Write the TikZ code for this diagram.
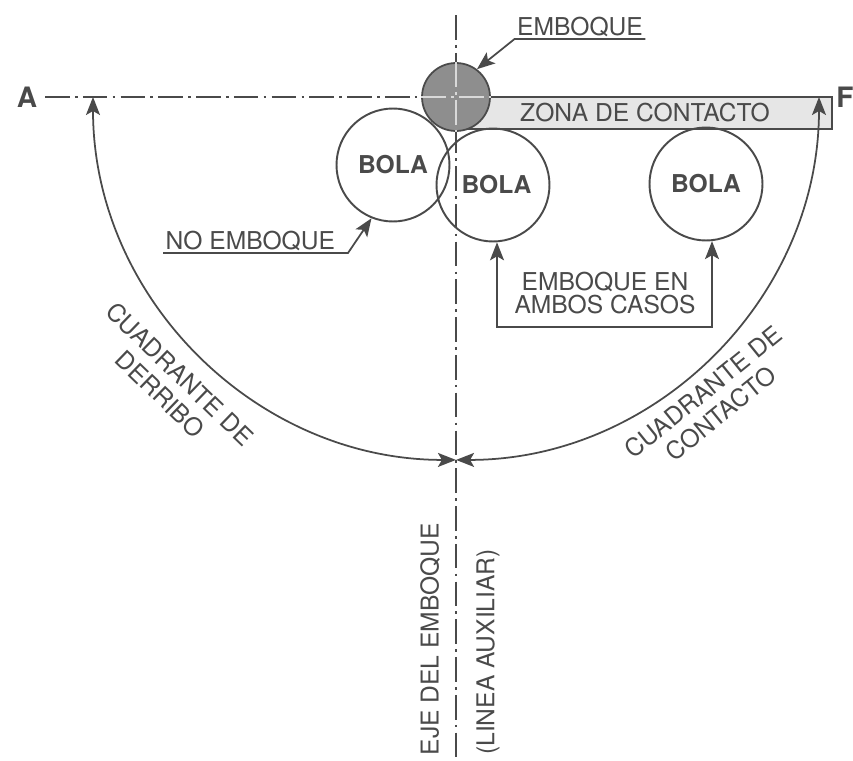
\documentclass[tikz,border=0pt]{standalone}
\usepackage{fontspec}
\setmainfont{TeX Gyre Heros}
\usepackage{xcolor}
\usetikzlibrary{arrows.meta, calc, positioning}
\definecolor{ink}{HTML}{4A4A4A}
\definecolor{embgray}{HTML}{8E8E8E}
\definecolor{zonegray}{HTML}{E6E6E6}

\begin{document}
\begin{tikzpicture}[x=0.02cm, y=0.02cm, line width=1pt, ink,
    txt/.style={font=\fontsize{14}{13}\selectfont, text=ink, inner sep=1pt, align=center},
    bola/.style={circle, draw=ink, line width=1.1pt, minimum size=2.26cm, inner sep=0pt, font=\fontsize{14}{16}\selectfont\bfseries},
    letra/.style={font=\fontsize{16}{18}\selectfont\bfseries, text=ink},
    axis/.style={line width=0.9pt, dash pattern=on 14pt off 3pt on 1.5pt off 3pt},
    arr/.style={-{Stealth[length=3.6mm, width=2.8mm, inset=0.8mm]}},
    arrboth/.style={{Stealth[length=3.6mm, width=2.8mm, inset=0.8mm]}-{Stealth[length=3.6mm, width=2.8mm, inset=0.8mm]}}]
    \useasboundingbox (0,0) rectangle (853,-761);
    \coordinate (O) at (456,-97);
    \draw[fill=zonegray, line width=1.1pt] (456,-97) rectangle (832,-129);
    \node[txt] (zona) at (645,-113) {ZONA DE CONTACTO};
    \draw[axis] (456,-15) -- (456,-761);
    \draw[axis] (45,-97) -- (O);
    \node[letra] (A) at (27,-97) {A};
    \node[letra] (F) at (845,-97) {F};
    \node[bola] (b1) at (393,-165) {BOLA};
    \node[bola] (b2) at (493,-185) {\hspace*{4pt}BOLA};
    \node[bola] (b3) at (706,-184) {BOLA};
    \node[circle, draw=ink, fill=embgray, minimum size=1.36cm, inner sep=0pt] (emb) at (O) {};
    \draw[axis, gray!30] (emb.west) -- (emb.east) (emb.north) -- (emb.south);
    \draw[arrboth] (93,-97) arc[start angle=180, end angle=270, radius=7.26cm];
    \draw[arrboth] (819,-97) arc[start angle=0, end angle=-90, radius=7.26cm];
    \node[txt, anchor=south] (lblemb) at (580,-39) {EMBOQUE};
    \draw[arr] (lblemb.south east) -- (lblemb.south west) -- (emb.53);
    \node[txt, anchor=south west] (lblno) at (163,-253) {NO EMBOQUE};
    \draw[arr] (lblno.south west) -- ++(185,0) -- (b1.-112);
    \node[txt] (ambos) at (605,-293) {EMBOQUE EN\\AMBOS CASOS};
    \coordinate (ambase) at (605,-327);
    \draw[arrboth] (b2.-86) -- (b2.-86 |- ambase) -- (b3.-84 |- ambase) -- (b3.-84);
    \node[txt, rotate=-44] (qder) at (170,-384) {CUADRANTE DE\\[3pt]DERRIBO};
    \node[txt, rotate=39] (qcon) at (712,-403) {CUADRANTE DE\\[3pt]CONTACTO};
    \node[txt, rotate=90] (eje) at (430,-639) {EJE DEL EMBOQUE};
    \node[txt, rotate=90] (linea) at (488,-652) {(LINEA AUXILIAR)};
\end{tikzpicture}
\end{document}
